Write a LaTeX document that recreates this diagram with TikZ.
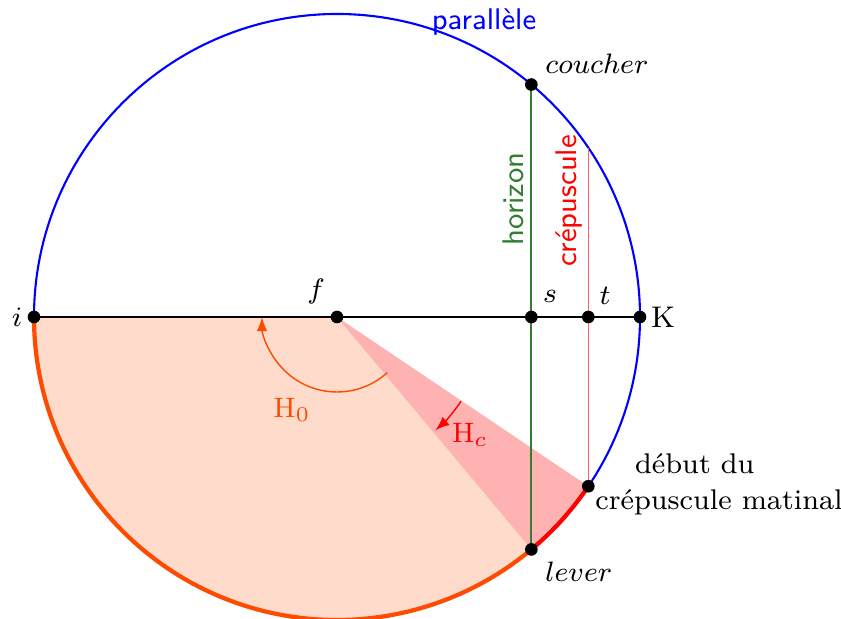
\documentclass[tikz,border=0pt]{standalone}
\usetikzlibrary{calc}
\definecolor{orangerouge}{RGB}{255,75,0}
\definecolor{vert}{RGB}{50,125,50}
\tikzset{
  point/.style={circle,fill=black,inner sep=0pt,minimum size=3.6pt},
  lbl/.style={font=\fontsize{8.5}{10}\selectfont},
}
\begin{document}
\begin{tikzpicture}[scale=1.0,lbl]
\useasboundingbox (-3.37,-3.02) rectangle (5.04,3.17);
\def\R{3.03}
% points
\coordinate (f) at (0,0);
\coordinate (i) at (180:\R);
\coordinate (K) at (0:\R);
\coordinate (coucher) at (50.1:\R);
\coordinate (lever) at (-50.1:\R);
\coordinate (aube) at (-33.96:\R);
\coordinate (haut) at (33.96:\R);
\coordinate (s) at (coucher |- f);
\coordinate (t) at (aube |- f);
% secteurs
\fill[orangerouge!20] (f) -- (i) arc (180:309.9:\R) -- cycle;
\fill[red!30] (f) -- (lever) arc (-50.1:-33.96:\R) -- cycle;
% parallele
\draw[blue,semithick] (f) circle (\R);
\draw[orangerouge,very thick] (i) arc (180:309.9:\R);
\draw[red,very thick] (lever) arc (-50.1:-33.96:\R);
% droites
\draw[line width=0.35pt] (i)--(K);
\draw[vert,semithick] (coucher)--(lever);
\draw[red!60] (haut)--(aube);
% angles
\draw[orangerouge,-latex] (f) ++(-48:0.75) arc (-48:-180:0.75);
\draw[red,-latex] (f) ++(-34.2:1.5) arc (-34.2:-49:1.5);
% textes
\node[blue,font=\fontsize{8.5}{10}\sffamily] (tpar) at (1.47,2.95) {parallèle};
\node[right] (tcou) at (1.96,2.53) {$coucher$};
\node[right] (tlev) at (1.96,-2.55) {$lever$};
\node[vert,rotate=90,font=\fontsize{8.5}{10}\sffamily] (thor) at (1.76,1.18) {horizon};
\node[red,rotate=90,font=\fontsize{8.5}{10}\sffamily] (tcre) at (2.32,1.16) {crépuscule};
\node (tf) at (-0.21,0.26) {$f$};
\node (ts) at (2.13,0.21) {$s$};
\node (tt) at (2.68,0.21) {$t$};
\node (tK) at (3.26,0) {K};
\node (ti) at (-3.2,0) {$i$};
\node[orangerouge] (tH0) at (-0.45,-0.93) {$\mathrm{H}_0$};
\node[red] (tHc) at (1.33,-1.18) {$\mathrm{H}_c$};
\node[align=center,font=\fontsize{8.1}{10.2}\selectfont] (tdeb) at (3.82,-1.67) {\hspace*{-1.7em}début du\\crépuscule matinal};
\foreach \p in {i,K,f,s,t,coucher,lever,aube}
  \node[point] at (\p) {};
\end{tikzpicture}
\end{document}
